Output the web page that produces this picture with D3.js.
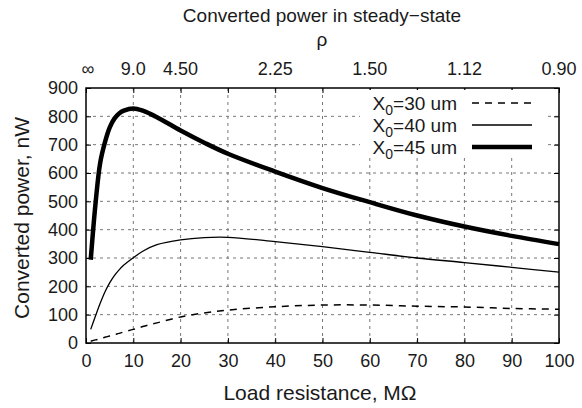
<!DOCTYPE html>
<html>
<head>
<meta charset="utf-8">
<script src="https://cdn.jsdelivr.net/npm/d3@7"></script>
<style>
body { margin: 0; background: #fff; }
text { font-family: "Liberation Sans", Arial, sans-serif; fill: #1a1a1a; }
</style>
</head>
<body>
<div id="chart"></div>
<script>
// load resistance in Mohm and converted power in nW
var resistance = [1, 2, 3, 4, 5, 6, 7, 8, 10, 12, 15, 20, 25, 30, 40, 50, 60, 70, 80, 90, 100];
var power30 = [6, 11, 15, 20, 25, 30, 34, 39, 48, 58, 71, 92, 106, 116, 128, 134, 134, 130, 127, 122, 119];
var power40 = [48, 95, 140, 180, 212, 238, 258, 275, 301, 324, 347, 364, 372, 373, 358, 340, 320, 300, 284, 267, 250];
var power45 = [294, 490, 636, 708, 760, 792, 810, 820, 828, 820, 797, 750, 707, 668, 605, 547, 497, 450, 411, 378, 349];

var xTicks = [0, 10, 20, 30, 40, 50, 60, 70, 80, 90, 100];
var yTicks = [0, 100, 200, 300, 400, 500, 600, 700, 800, 900];
// top axis: rho at some resistances
var rhoPos = [0, 10, 20, 40, 60, 80, 100];
var rhoLabels = ["\u221e", "9.0", "4.50", "2.25", "1.50", "1.12", "0.90"];

var series = [
  {name: "30", values: power30, width: 1.5, dash: "7,6"},
  {name: "40", values: power40, width: 1.3, dash: null},
  {name: "45", values: power45, width: 4.5, dash: null}
];

var W = 582, H = 408;
var m = {left: 86, right: 23, top: 88, bottom: 65};

var svg = d3.select("#chart").append("svg").attr("width", W).attr("height", H);

var x = d3.scaleLinear().domain([0, 100]).range([m.left, W - m.right]);
var y = d3.scaleLinear().domain([0, 900]).range([H - m.bottom, m.top]);

// grid
var grid = svg.append("g").attr("stroke", "#777").attr("stroke-width", 1).attr("stroke-dasharray", "3,4");
grid.selectAll(".gx").data(xTicks.slice(1, -1)).enter().append("line")
  .attr("x1", d => x(d)).attr("x2", d => x(d)).attr("y1", y(0)).attr("y2", y(900));
grid.selectAll(".gy").data(yTicks.slice(1, -1)).enter().append("line")
  .attr("x1", x(0)).attr("x2", x(100)).attr("y1", d => y(d)).attr("y2", d => y(d));

// axes, ticks pointing inward
svg.append("g").attr("transform", "translate(0," + y(0) + ")")
  .call(d3.axisBottom(x).tickValues(xTicks).tickSizeInner(-5).tickSizeOuter(0).tickPadding(11));
svg.append("g").attr("transform", "translate(0," + y(900) + ")")
  .call(d3.axisTop(x).tickValues(xTicks).tickSizeInner(-5).tickSizeOuter(0).tickFormat(""));
svg.append("g").attr("transform", "translate(" + x(0) + ",0)")
  .call(d3.axisLeft(y).tickValues(yTicks).tickSizeInner(-5).tickSizeOuter(0).tickPadding(8));
svg.append("g").attr("transform", "translate(" + x(100) + ",0)")
  .call(d3.axisRight(y).tickValues(yTicks).tickSizeInner(-5).tickSizeOuter(0).tickFormat(""));

svg.selectAll(".tick text").attr("font-size", 18).attr("font-family", "Liberation Sans, Arial, sans-serif").attr("fill", "#1a1a1a");
svg.selectAll(".domain").remove();
svg.selectAll(".tick line").attr("stroke", "#000").attr("stroke-width", 1);

// top rho labels
svg.selectAll(".rho").data(rhoPos).enter().append("text")
  .attr("x", d => x(d) + (d === 0 ? 2 : 0)).attr("y", 75)
  .attr("text-anchor", "middle").attr("font-size", 18)
  .text((d, i) => rhoLabels[i]);

// curves
var line = d3.line().x((d, i) => x(resistance[i])).y(d => y(d)).curve(d3.curveCatmullRom.alpha(0.5));
svg.selectAll(".curve").data(series).enter().append("path")
  .attr("fill", "none").attr("stroke", "#000")
  .attr("stroke-width", d => d.width)
  .attr("stroke-dasharray", d => d.dash)
  .attr("d", d => line(d.values));

// legend
var lg = svg.append("g");
lg.append("rect").attr("x", 360).attr("y", 90).attr("width", 186).attr("height", 68).attr("fill", "#fff");
series.forEach(function (s, i) {
  var ly = 103 + i * 22;
  var t = lg.append("text").attr("x", 457).attr("y", ly + 7).attr("text-anchor", "end").attr("font-size", 19);
  t.append("tspan").text("X");
  t.append("tspan").attr("font-size", 14).attr("dy", 5).text("0");
  t.append("tspan").attr("dy", -5).text("=" + s.name + " um");
  lg.append("line").attr("x1", 472).attr("x2", 532).attr("y1", ly).attr("y2", ly)
    .attr("stroke", "#000").attr("stroke-width", s.width).attr("stroke-dasharray", s.dash);
});

// box
svg.append("rect").attr("x", x(0)).attr("y", y(900)).attr("width", x(100) - x(0)).attr("height", y(0) - y(900))
  .attr("fill", "none").attr("stroke", "#000").attr("stroke-width", 1.5);

// titles
svg.append("text").attr("x", 322).attr("y", 22).attr("text-anchor", "middle").attr("font-size", 19)
  .text("Converted power in steady\u2212state");
svg.append("text").attr("x", 322).attr("y", 46).attr("text-anchor", "middle").attr("font-size", 19).text("\u03c1");
svg.append("text").attr("x", 320).attr("y", 400).attr("text-anchor", "middle").attr("font-size", 21)
  .text("Load resistance, M\u03a9");
svg.append("text").attr("transform", "translate(29,218) rotate(-90)").attr("text-anchor", "middle").attr("font-size", 21)
  .text("Converted power, nW");
</script>
</body>
</html>
